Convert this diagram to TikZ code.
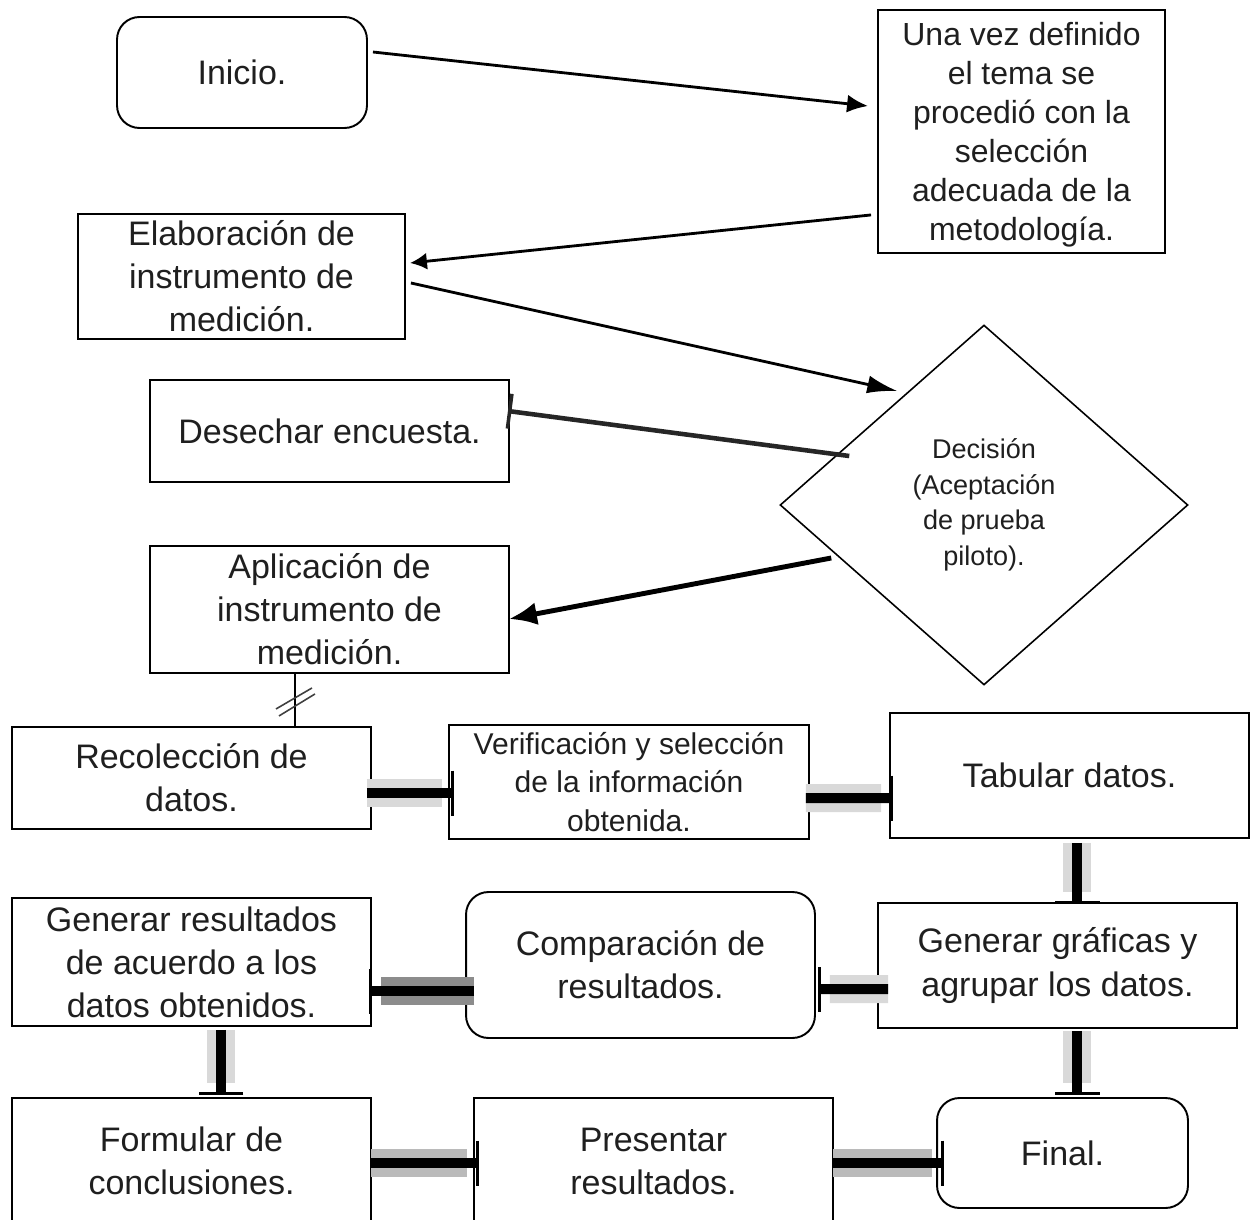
\documentclass[tikz,border=0pt]{standalone}
\usepackage{fontspec}
\setmainfont{Liberation Sans}
\usetikzlibrary{arrows.meta,shapes.geometric}
\newcommand{\fbig}{\fontsize{19.35}{24.5}\selectfont}
\newcommand{\fune}{\fontsize{18.2}{22.2}\selectfont}
\newcommand{\fver}{\fontsize{17.1}{21.9}\selectfont}
\newcommand{\fdec}{\fontsize{15.4}{20.3}\selectfont}
\newcommand{\fatarr}[3]{%
  \draw[line width=0.56cm, #3, shorten >=0.24cm] #1 -- #2;
  \draw[line width=0.2cm, -{Bar[width=0.9cm,line width=1.5pt]}] #1 -- #2;}
\begin{document}
\begin{tikzpicture}[x=0.02cm,y=-0.02cm,
  box/.style={draw, line width=1.1pt, inner sep=0pt, align=center, font=\fbig, text=black!88},
  rbox/.style={box, rounded corners=0.45cm},
  arr/.style={line width=1.6pt, -{Latex[length=0.42cm,width=0.36cm]}},
  bandA/.style={black!15},
  bandB/.style={black!45},
  bandC/.style={black!27}]
\clip (0,0) rectangle (1251,1220);
\fill[white] (0,0) rectangle (1251,1220);

% nodes
\node[rbox, minimum width=5cm, minimum height=2.22cm] (inicio) at (242,72.5) {Inicio.};
\node[box, minimum width=5.74cm, minimum height=4.86cm] (unavez) at (1021.5,131.5) {};
\node[align=center, font=\fune, text=black!88, inner sep=0pt] (unavezt) at ([shift={(0,3.5)}]unavez.center)
  {Una vez definido\\el tema se\\procedió con la\\selección\\adecuada de la\\metodología.};
\node[box, minimum width=6.54cm, minimum height=2.5cm] (elab) at (241.5,276.5)
  {Elaboración de\\instrumento de\\medición.};
\node[box, minimum width=7.18cm, minimum height=2.04cm] (desechar) at (329.5,431) {Desechar encuesta.};
\node[diamond, draw, line width=0.9pt, minimum width=8.16cm, minimum height=7.2cm, inner sep=0pt,
  align=center, font=\fdec, text=black!88] (dec) at (984,505) {Decisión\\(Aceptación\\de prueba\\piloto).};
\node[box, minimum width=7.18cm, minimum height=2.54cm] (aplic) at (329.5,609.5)
  {Aplicación de\\instrumento de\\medición.};
\node[box, minimum width=7.18cm, minimum height=2.04cm] (recol) at (191.5,778) {Recolección de\\datos.};
\node[box, font=\fver, minimum width=7.2cm, minimum height=2.28cm] (verif) at (629,782)
  {Verificación y selección\\de la información\\obtenida.};
\node[box, minimum width=7.18cm, minimum height=2.5cm] (tab) at (1069.5,775.5) {Tabular datos.};
\node[box, minimum width=7.18cm, minimum height=2.5cm] (graf) at (1057.5,965.5)
  {Generar gráficas y\\agrupar los datos.};
\node[rbox, minimum width=6.98cm, minimum height=2.92cm] (comp) at (640.5,965)
  {Comparación de\\resultados.};
\node[box, minimum width=7.18cm, minimum height=2.56cm] (res) at (191.5,962)
  {Generar resultados\\de acuerdo a los\\datos obtenidos.};
\node[box, minimum width=7.18cm, minimum height=2.52cm] (form) at (191.5,1161)
  {Formular de\\conclusiones.};
\node[box, minimum width=7.18cm, minimum height=2.52cm] (pres) at (653.5,1161)
  {Presentar\\resultados.};
\node[rbox, minimum width=5.02cm, minimum height=2.2cm] (final) at (1062.5,1153) {Final.};

% thin arrows
\draw[arr] ([shift={(5,-20.5)}]inicio.east) -- ([shift={(-9,-25.5)}]unavez.west);
\draw[arr, -{Latex[length=0.34cm,width=0.34cm]}] ([shift={(-6,-39)}]unavez.south west) -- ([shift={(4,-13.5)}]elab.east);
\draw[arr, -{Latex[length=0.6cm,width=0.36cm]}] ([shift={(5,6.5)}]elab.east) -- ([shift={(118,-114)}]dec.west);
\draw[line width=2.6pt, black!85, -{Bar[width=0.7cm,line width=2pt]}] ([shift={(70,-49)}]dec.west) -- ([shift={(-2,-20)}]desechar.east);
\draw[line width=2.8pt, -{Latex[length=0.56cm,width=0.46cm]}] ([shift={(52,53)}]dec.west) -- ([shift={(-1,9.5)}]aplic.east);

% break line
\coordinate (brk) at ([shift={(-34.5,0)}]aplic.south);
\draw[line width=1pt] (brk) -- ([shift={(103.5,0)}]recol.north);
\draw[line width=0.9pt, black!75] ([shift={(-19,35)}]brk) -- ([shift={(17,14)}]brk);
\draw[line width=0.9pt, black!75] ([shift={(-16,42)}]brk) -- ([shift={(20,20)}]brk);

% fat arrows
\fatarr{([shift={(-5,15)}]recol.east)}{([shift={(6,11)}]verif.west)}{bandA}
\fatarr{([shift={(-4,16)}]verif.east)}{([shift={(4,22.5)}]tab.west)}{bandA}
\fatarr{([shift={(7.5,4)}]tab.south)}{([shift={(19.5,2)}]graf.north)}{bandA}
\fatarr{([shift={(11,23.5)}]graf.west)}{([shift={(2,24)}]comp.east)}{bandA}
\fatarr{([shift={(9,26)}]comp.west)}{([shift={(-3,29)}]res.east)}{bandB}
\fatarr{([shift={(29.5,3)}]res.south)}{([shift={(29.5,-2)}]form.north)}{bandA}
\fatarr{([shift={(19.5,2)}]graf.south)}{([shift={(14.5,-2)}]final.north)}{bandA}
\fatarr{([shift={(-1,2)}]form.east)}{([shift={(6,2)}]pres.west)}{bandC}
\fatarr{([shift={(-1,2)}]pres.east)}{([shift={(8,10)}]final.west)}{bandC}
\end{tikzpicture}
\end{document}
